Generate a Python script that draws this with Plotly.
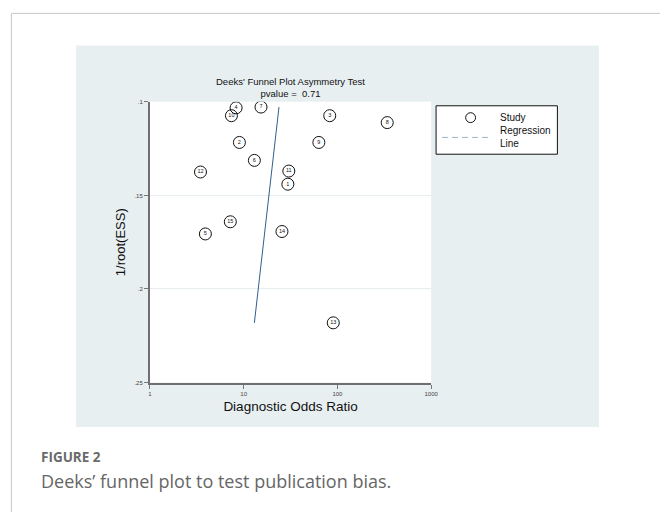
import plotly.graph_objects as go

# Study estimates: diagnostic odds ratio and 1/sqrt(effective sample size)
study_ids = ["1", "2", "3", "4", "5", "6", "7", "8", "9", "10", "11", "12", "13", "14", "15"]
dor = [29.6, 9.0, 82.8, 8.3, 3.9, 13.0, 15.3, 340.0, 63.4, 7.4, 30.3, 3.46, 90.3, 25.6, 7.2]
inv_root_ess = [0.1440, 0.1217, 0.1074, 0.1032, 0.1706, 0.1313, 0.1028, 0.1111, 0.1217,
                0.1074, 0.1370, 0.1375, 0.2181, 0.1693, 0.1641]

# Fitted regression line end points (DOR, 1/root(ESS))
reg_dor = [23.8, 13.0]
reg_y = [0.1028, 0.2181]

x_ticks = [1, 10, 100, 1000]
x_tick_text = ["1", "10", "100", "1000"]
y_ticks = [0.10, 0.15, 0.20, 0.25]
y_tick_text = [".1", ".15", ".2", ".25"]

legend_labels = ["Study", "Regression<br>Line"]

W, H = 667, 515
AX = "Liberation Sans, Arial, sans-serif"
CAP = "Open Sans, sans-serif"
REG_COLOR = "#2f5f8f"
LEG_DASH_COLOR = "#9db3c4"


def px_x(v):
    return v / W


def px_y(v):
    return 1 - v / H


fig = go.Figure()

fig.add_trace(go.Scatter(
    x=reg_dor, y=reg_y, mode="lines",
    line=dict(color=REG_COLOR, width=1),
    showlegend=False, hoverinfo="skip",
))

fig.add_trace(go.Scatter(
    x=dor, y=inv_root_ess, mode="markers+text", text=study_ids,
    marker=dict(symbol="circle-open", size=12, color="#111111", line=dict(width=1, color="#111111")),
    textfont=dict(family=AX, size=5.5, color="#111111"),
    textposition="middle center", showlegend=False,
))

fig.update_xaxes(
    type="log", range=[0, 3], domain=[px_x(150), px_x(435)],
    tickvals=x_ticks, ticktext=x_tick_text,
    ticks="outside", ticklen=4, tickcolor="#777777", tickwidth=1,
    tickfont=dict(family=AX, size=6, color="#444444"),
    showline=True, linecolor="#6f6f6f", linewidth=2,
    showgrid=False, zeroline=False,
    title=dict(text="Diagnostic Odds Ratio", font=dict(family=AX, size=13.5, color="#111111"), standoff=6),
)
fig.update_yaxes(
    range=[0.25, 0.10], domain=[px_y(384), px_y(100)],
    tickvals=y_ticks, ticktext=y_tick_text,
    ticks="outside", ticklen=4, tickcolor="#777777", tickwidth=1,
    tickfont=dict(family=AX, size=6, color="#444444"),
    showline=True, linecolor="#6f6f6f", linewidth=2,
    showgrid=True, gridcolor="#e6eef0", gridwidth=1, zeroline=False,
    title=dict(text="1/root(ESS)", font=dict(family=AX, size=13, color="#111111"), standoff=6),
)

shapes = [
    # grey-blue panel behind the graph
    dict(type="rect", xref="paper", yref="paper", x0=px_x(75), x1=px_x(605), y0=px_y(429), y1=px_y(43),
         fillcolor="#e8eff1", line=dict(width=0), layer="below"),
    # white plotting region
    dict(type="rect", xref="x domain", yref="y domain", x0=0, x1=1, y0=0, y1=1,
         fillcolor="white", line=dict(width=0), layer="below"),
    # page frame lines
    dict(type="line", xref="paper", yref="paper", x0=px_x(9.5), x1=1, y0=px_y(10.5), y1=px_y(10.5),
         line=dict(color="#c8c8c8", width=1)),
    dict(type="line", xref="paper", yref="paper", x0=px_x(9.5), x1=px_x(9.5), y0=0, y1=px_y(10.5),
         line=dict(color="#c8c8c8", width=1)),
    # key box
    dict(type="rect", xref="paper", yref="paper", x0=px_x(440), x1=px_x(563), y0=px_y(153), y1=px_y(104),
         fillcolor="white", line=dict(color="#111111", width=1)),
    # key: study symbol
    dict(type="circle", xref="paper", yref="paper", x0=px_x(470), x1=px_x(480), y0=px_y(121), y1=px_y(111),
         line=dict(color="#111111", width=1)),
    # key: regression line sample
    dict(type="line", xref="paper", yref="paper", x0=px_x(446), x1=px_x(494), y0=px_y(136), y1=px_y(136),
         line=dict(color=LEG_DASH_COLOR, width=1, dash="6px,4px")),
]

annotations = [
    dict(text="Deeks' Funnel Plot Asymmetry Test<br>pvalue =\u00a0\u00a00.71", xref="paper", yref="paper",
         x=px_x(292.5), y=px_y(99), xanchor="center", yanchor="bottom", showarrow=False,
         font=dict(family=AX, size=9.5, color="#111111"), align="center"),
    dict(text=legend_labels[0], xref="paper", yref="paper", x=px_x(503), y=px_y(116),
         xanchor="left", yanchor="middle", showarrow=False,
         font=dict(family=AX, size=10, color="#111111"), align="left"),
    dict(text=legend_labels[1], xref="paper", yref="paper", x=px_x(503), y=px_y(135.5),
         xanchor="left", yanchor="middle", showarrow=False,
         font=dict(family=AX, size=10, color="#111111"), align="left"),
    dict(text="<b>FIGURE 2</b>", xref="paper", yref="paper", x=px_x(37), y=px_y(459),
         xanchor="left", yanchor="middle", showarrow=False,
         font=dict(family=CAP, size=13.5, color="#6a6a6a")),
    dict(text="Deeks\u2019 funnel plot to test publication bias.", xref="paper", yref="paper",
         x=px_x(37), y=px_y(484), xanchor="left", yanchor="middle", showarrow=False,
         font=dict(family=CAP, size=18, color="#666666")),
]

fig.update_layout(
    width=W, height=H, margin=dict(l=0, r=0, t=0, b=0),
    paper_bgcolor="white", plot_bgcolor="white",
    shapes=shapes, annotations=annotations, showlegend=False,
)

fig.write_html("out.html")
